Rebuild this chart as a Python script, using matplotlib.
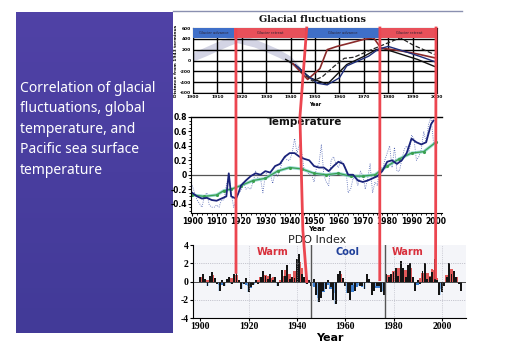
import numpy as np
import matplotlib
matplotlib.use("Agg")
import matplotlib.pyplot as plt
from matplotlib.lines import Line2D
from matplotlib.ticker import MultipleLocator

plt.rcParams['axes.unicode_minus'] = False

# ---------------- data ----------------
# Glacial fluctuations (distance from 1943 terminus)
glacier_band_years = [1900, 1905, 1910, 1915, 1918, 1925, 1930, 1935, 1940, 1944]
glacier_band_upper = [150, 250, 350, 440, 490, 400, 310, 210, 80, -120]
glacier_band_lower = [-10, 80, 180, 280, 330, 250, 160, 60, -60, -230]

glacier_a_years = [1938, 1943, 1948, 1955, 1963, 1970, 1975, 1978, 1985, 1992, 1999]
glacier_a_vals = [20, -120, -320, -440, -75, 75, 200, 220, 120, 20, -110]
glacier_b_years = [1941, 1947, 1952, 1955, 1959, 1965, 1970, 1974, 1977, 1985, 1992, 1999]
glacier_b_vals = [-60, -350, -150, 200, 260, 330, 390, 420, 230, 180, 120, 50]
glacier_c_years = [1942, 1946, 1951, 1955, 1960, 1963, 1968, 1972, 1976, 1980, 1988, 1994, 1999]
glacier_c_vals = [-80, -250, -420, -450, -320, -100, 0, 80, 210, 260, 150, 60, -20]
glacier_d_years = [1944, 1949, 1953, 1958, 1962, 1966, 1971, 1985, 1990, 1995, 1999]
glacier_d_vals = [-200, -380, -300, -100, 40, 60, 160, 420, 290, 190, 110]

glacier_phase_edges = [1900, 1917, 1946, 1977, 2000]
glacier_phase_labels = ["Glacier advance", "Glacier retreat", "Glacier advance", "Glacier retreat"]
glacier_phase_colors = ["#3f6fc8", "#e8505a", "#3f6fc8", "#e8505a"]

# Global temperature anomaly (annual)
temp_years = list(range(1900, 2001))
temp_annual = [
    -0.15, -0.25, -0.35, -0.40, -0.45, -0.30, -0.25, -0.42, -0.45, -0.45,
    -0.42, -0.45, -0.35, -0.35, -0.15, 0.00, -0.25, -0.45, -0.35, -0.25,
    -0.22, -0.10, -0.20, -0.18, -0.20, -0.10, 0.05, -0.05, -0.05, -0.25,
    0.00, 0.05, 0.02, -0.12, 0.02, -0.02, 0.05, 0.20, 0.25, 0.20,
    0.20, 0.30, 0.50, 0.30, 0.42, 0.30, 0.05, 0.05, 0.00, 0.00,
    -0.10, 0.10, 0.15, 0.42, 0.00, -0.10, -0.15, 0.20, 0.25, 0.15,
    0.10, 0.20, 0.15, 0.10, -0.25, -0.20, -0.05, -0.05, -0.15, 0.05,
    0.00, -0.20, -0.05, 0.15, -0.25, -0.10, -0.15, 0.15, 0.05, 0.20,
    0.30, 0.40, 0.10, 0.38, 0.05, 0.05, 0.20, 0.35, 0.40, 0.30,
    0.55, 0.50, 0.20, 0.25, 0.35, 0.60, 0.45, 0.70, 0.80, 0.45,
    0.45,
]
temp_smooth_years = [1900, 1902, 1904, 1906, 1908, 1910, 1912, 1914, 1915, 1916, 1918,
                     1919, 1920, 1922, 1924, 1926, 1928, 1930, 1932, 1934, 1936, 1938,
                     1940, 1942, 1944, 1946, 1948, 1950, 1952, 1954, 1956, 1958, 1960,
                     1962, 1964, 1966, 1968, 1970, 1972, 1974, 1976, 1978, 1980, 1982,
                     1984, 1986, 1988, 1990, 1992, 1994, 1996, 1998, 1999]
temp_smooth = [-0.25, -0.30, -0.33, -0.32, -0.35, -0.36, -0.33, -0.30, 0.02, -0.30, -0.33,
               -0.25, -0.15, -0.08, -0.02, 0.02, 0.00, 0.05, 0.03, 0.12, 0.15, 0.25,
               0.30, 0.30, 0.25, 0.22, 0.20, 0.12, 0.10, 0.10, 0.05, 0.12, 0.18,
               0.15, 0.00, 0.00, -0.08, -0.10, -0.08, -0.05, -0.02, 0.05, 0.18, 0.20,
               0.15, 0.20, 0.30, 0.50, 0.45, 0.42, 0.45, 0.70, 0.75]
temp_trend_years = [1900, 1905, 1910, 1913, 1916, 1920, 1925, 1930, 1935, 1940, 1945,
                    1950, 1955, 1960, 1965, 1970, 1975, 1980, 1985, 1990, 1995, 2000]
temp_trend = [-0.28, -0.30, -0.28, -0.22, -0.20, -0.15, -0.08, -0.05, 0.05, 0.10, 0.08,
              0.02, 0.00, 0.02, -0.02, -0.02, 0.00, 0.12, 0.22, 0.30, 0.32, 0.45]

# PDO index (annual)
pdo_years = list(range(1900, 2009))
pdo_vals = [
    0.5, 0.8, 0.3, -0.5, 0.6, 1.0, 0.4, -0.3, -1.0, 0.2,
    -0.5, 0.3, 0.5, -0.3, 0.8, 1.0, 0.2, -0.8, -0.3, 0.4,
    -1.2, -0.6, -0.4, 0.2, -0.3, 0.5, 1.2, 0.6, 0.3, 0.8,
    0.2, 0.5, -0.5, -0.2, 1.3, 0.6, 1.8, 0.3, 0.5, 0.4,
    2.5, 3.0, 0.8, 0.5, -0.3, 0.2, -0.5, 0.3, -1.5, -2.2,
    -1.8, -1.0, -0.8, 0.2, -0.6, -2.0, -2.5, 0.8, 1.2, 0.4,
    -0.5, -1.3, -2.0, -0.4, -1.0, -0.2, -0.5, -0.5, -0.8, 0.8,
    0.3, -1.5, -1.0, -0.5, -0.5, -1.2, -1.5, 0.8, 0.5, 0.8,
    1.0, 1.5, 0.6, 2.3, 1.5, 0.5, 1.8, 2.0, 0.5, -1.0,
    0.2, -0.3, 1.2, 2.0, 0.3, 0.5, 1.0, 2.5, 0.2, -1.5,
    -1.2, -0.5, 0.5, 2.0, 0.8, 1.2, 0.5, -0.3, -1.0,
]
pdo_regime_labels = ["Warm", "Cool", "Warm"]
pdo_regime_years = [1930, 1961, 1986]
pdo_regime_colors = ["#d8303c", "#1f3f9a", "#d8303c"]
pdo_shift_years = [1946, 1976.5]

# Regime shift markers: waypoints (panel, year, value)
shift_markers = [
    [("glac", 1917.6, 570), ("pdo", 1914.8, 1.0)],
    [("glac", 1946.6, 600), ("temp", 1944.2, 0.8), ("temp", 1945.4, -0.77), ("pdo", 1944.1, 0.0)],
    [("glac", 1976.6, 600), ("pdo", 1974.3, 0.2)],
    [("glac", 1999.6, 600), ("pdo", 1997.4, 0.4)],
]

slide_text = ["Correlation of glacial", "fluctuations, global", "temperature, and",
              "Pacific sea surface", "temperature"]

# ---------------- figure ----------------
W, H = 506, 345
fig = plt.figure(figsize=(W / 100, H / 100), dpi=100)
fig.patch.set_facecolor("white")


def box(x0, y0, x1, y1):
    return [x0 / W, 1 - y1 / H, (x1 - x0) / W, (y1 - y0) / H]


# slide panel with soft gradient
ax_bg = fig.add_axes(box(16, 12, 173, 333))
grad = np.linspace(0, 1, 64)[:, None] * np.ones((1, 16))
top_c = np.array([80, 66, 166]) / 255
bot_c = np.array([66, 58, 152]) / 255
img = top_c[None, None, :] * (1 - grad[..., None]) + bot_c[None, None, :] * grad[..., None]
ax_bg.imshow(img, aspect="auto", extent=[0, 1, 0, 1])
ax_bg.set_axis_off()
for i, line in enumerate(slide_text):
    fig.text(20 / W, 1 - (88 + 20.5 * i) / H, line, color="white", fontsize=10,
             family="Noto Sans", va="center", ha="left")

# slide rule line
fig.add_artist(Line2D([173 / W, 462 / W], [1 - 11 / H, 1 - 11 / H], color="#8a90b0", lw=1))

# ---------- glacial fluctuations ----------
ax_g = fig.add_axes(box(193, 28, 437, 93))
ax_g.set_xlim(1900, 2000)
ax_g.set_ylim(-600, 600)
ax_g.fill_between(glacier_band_years, glacier_band_lower, glacier_band_upper,
                  color="#d3d4e4", lw=0, zorder=1)
for i in range(4):
    ax_g.axvspan(glacier_phase_edges[i], glacier_phase_edges[i + 1], ymin=0.85, ymax=1.0,
                 color=glacier_phase_colors[i], lw=0, zorder=3)
    ax_g.text((glacier_phase_edges[i] + glacier_phase_edges[i + 1]) / 2, 510,
              glacier_phase_labels[i], fontsize=2.6, color="#2a2030", ha="center",
              va="center", zorder=4)
ax_g.set_xticks(range(1900, 2001, 10))
ax_g.set_yticks(range(-600, 601, 200))
ax_g.set_axisbelow("line")
ax_g.grid(True, color="black", lw=1.0)
ax_g.plot(glacier_a_years, glacier_a_vals, color="#111111", lw=1.0, zorder=2)
ax_g.plot(glacier_b_years, glacier_b_vals, color="#8a2a2a", lw=1.2, zorder=2)
ax_g.plot(glacier_c_years, glacier_c_vals, color="#1e2e7a", lw=1.0, zorder=2)
ax_g.plot(glacier_d_years, glacier_d_vals, color="#222222", lw=0.9, ls="--", zorder=2)
ax_g.tick_params(labelsize=3.2, length=0, pad=1.5)
for lab in ax_g.get_xticklabels() + ax_g.get_yticklabels():
    lab.set_fontweight("bold")
ax_g.set_ylabel("Distance from 1943 terminus", fontsize=3.2, fontweight="bold", labelpad=1.5)
ax_g.set_xlabel("Year", fontsize=3.5, fontweight="bold", labelpad=2)
for s in ax_g.spines.values():
    s.set_color("black")
fig.text(313 / W, 1 - 20 / H, "Glacial fluctuations", fontsize=7, family="DejaVu Serif",
         fontweight="bold", ha="center", va="center", color="#111111")

# ---------- temperature ----------
ax_t = fig.add_axes(box(191, 117, 442, 213))
ax_t.set_xlim(1899.5, 2002.5)
ax_t.set_ylim(-0.53, 0.8)
ax_t.axhline(0, color="#555555", lw=0.9)
ax_t.plot(temp_years, temp_annual, color="#4a5fb0", lw=0.6, ls=":")
ax_t.plot(temp_trend_years, temp_trend, color="#7fd0c8", lw=2.2, alpha=0.8)
ax_t.plot(temp_trend_years, temp_trend, color="#3aa050", lw=0.9, marker=".", ms=2.5)
ax_t.plot(temp_smooth_years, temp_smooth, color="#1a237a", lw=1.3)
ax_t.set_xticks(range(1900, 2001, 10))
ax_t.set_yticks([-0.4, -0.2, 0, 0.2, 0.4, 0.6, 0.8])
ax_t.set_yticklabels(["-0.4", "-0.2", "0", "0.2", "0.4", "0.6", "0.8"])
ax_t.xaxis.set_minor_locator(MultipleLocator(2))
ax_t.yaxis.set_minor_locator(MultipleLocator(0.05))
ax_t.tick_params(labelsize=5.5, length=2, width=0.8, pad=1)
ax_t.tick_params(which="minor", length=1.2, width=0.6)
for lab in ax_t.get_xticklabels() + ax_t.get_yticklabels():
    lab.set_fontweight("bold")
ax_t.spines["right"].set_visible(False)
ax_t.spines["top"].set_linewidth(1.0)
ax_t.set_xlabel("Year", fontsize=5, fontweight="bold", labelpad=0)
ax_t.text(1946, 0.73, "Temperature", fontsize=7.5, fontweight="bold", ha="center",
          va="center", color="#111111")

# ---------- PDO index ----------
ax_p = fig.add_axes(box(193, 245, 466, 318))
ax_p.set_facecolor("#f4f5f9")
ax_p.set_xlim(1897, 2010)
ax_p.set_ylim(-4, 4)
for y in (-2, 2):
    ax_p.axhline(y, color="#9a9aa8", lw=0.5, ls=":")
for x in range(1920, 2001, 20):
    ax_p.axvline(x, color="#b0b0bc", lw=0.5, ls=":")
pdo = np.array(pdo_vals)
pdo_smooth = np.convolve(pdo, np.ones(3) / 3, mode="same")
bar_cols = np.where(pdo_smooth >= 0, "#e05a5a", "#3d7fd0")
ax_p.bar(pdo_years, pdo_smooth, width=1.0, color=bar_cols, lw=0)
neg = np.minimum(pdo, 0)
ax_p.bar(pdo_years, neg, width=1.0, color="#9cc6ee", lw=0, alpha=0.6)
ax_p.bar(pdo_years, pdo, width=0.8, color="#151515", lw=0)
ax_p.axhline(0, color="#333333", lw=0.6)
for x in pdo_shift_years:
    ax_p.axvline(x, color="#555555", lw=1.0)
for lab, x, c in zip(pdo_regime_labels, pdo_regime_years, pdo_regime_colors):
    ax_p.text(x, 3.2, lab, color=c, fontsize=7, fontweight="bold", ha="center", va="center")
ax_p.set_xticks(range(1900, 2001, 20))
ax_p.set_yticks([-4, -2, 0, 2, 4])
ax_p.tick_params(labelsize=7, length=2, width=0.8, pad=1)
for lab in ax_p.get_xticklabels() + ax_p.get_yticklabels():
    lab.set_fontweight("bold")
    lab.set_family("Liberation Serif")
ax_p.spines["right"].set_visible(False)
ax_p.spines["top"].set_visible(False)
ax_p.set_xlabel("Year", fontsize=8, fontweight="bold", labelpad=1)
fig.text(317 / W, 1 - 240 / H, "PDO Index", fontsize=8, ha="center", va="center",
         color="#222222")

# ---------- regime shift lines ----------
panels = {"glac": ax_g, "temp": ax_t, "pdo": ax_p}
inv = fig.transFigure.inverted()
for marker in shift_markers:
    pts = [inv.transform(panels[p].transData.transform((x, y))) for p, x, y in marker]
    xs, ys = zip(*pts)
    fig.add_artist(Line2D(xs, ys, color="#ec4650", lw=2.0, zorder=10))

fig.savefig("out.png", dpi=100, facecolor="white")
